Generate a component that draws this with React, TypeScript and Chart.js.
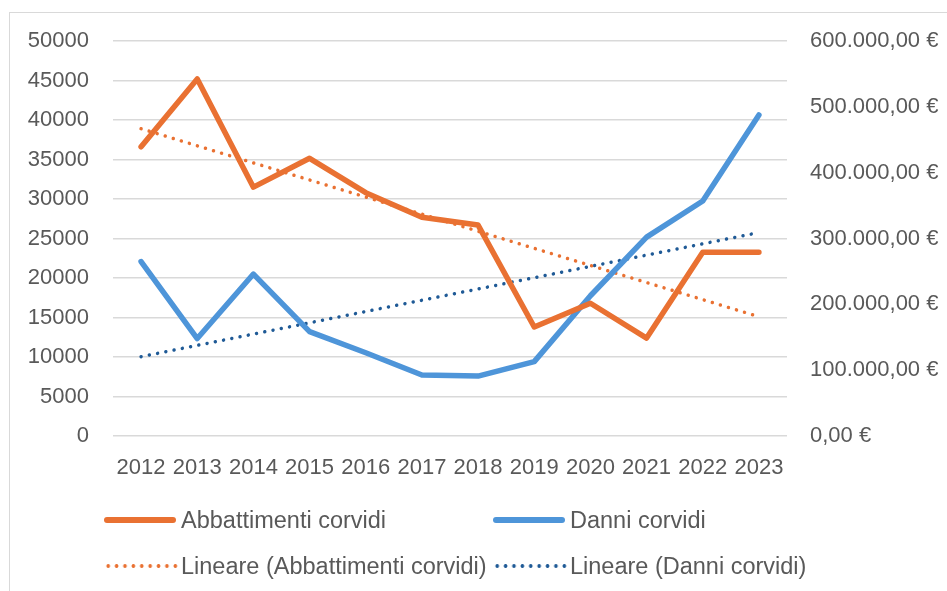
import React, { useEffect, useRef } from "react";
import { Chart, registerables } from "chart.js";

Chart.register(...registerables);

const years = ["2012", "2013", "2014", "2015", "2016", "2017", "2018", "2019", "2020", "2021", "2022", "2023"];
const abbattimenti = [36600, 45200, 31500, 35150, 30800, 27700, 26700, 13800, 16800, 12400, 23250, 23250];
const danni = [265000, 148000, 246000, 158500, 126500, 92700, 91000, 113000, 213000, 302000, 357000, 487600];
const trendAbbattimenti = [38900, null, null, null, null, null, null, null, null, null, null, 15100];
const trendDanni = [120500, null, null, null, null, null, null, null, null, null, null, 309000];

const seriesNames = ["Abbattimenti corvidi", "Danni corvidi", "Lineare (Abbattimenti corvidi)", "Lineare (Danni corvidi)"];

const ORANGE = "#E97132";
const BLUE = "#4E95D9";
const DARKBLUE = "#1F5A96";
const TEXT = "#595959";
const GRID = "#D9D9D9";
const FONT = "'Liberation Sans', Arial, sans-serif";

function formatEuro(v: number): string {
  const int = Math.round(v).toString().replace(/\B(?=(\d{3})+(?!\d))/g, ".");
  return int + ",00 €";
}

function LegendItem(props: { left: number; top: number; color: string; dotted: boolean; label: string }) {
  const { left, top, color, dotted, label } = props;
  const sample: React.CSSProperties = dotted
    ? {
        position: "absolute",
        left: left,
        top: top - 2,
        width: 74,
        height: 4,
        background: `radial-gradient(circle, ${color} 1.6px, transparent 2.1px) 0 0 / 8.4px 4px repeat-x`,
      }
    : {
        position: "absolute",
        left: left,
        top: top - 3,
        width: 72,
        height: 6,
        borderRadius: 3,
        background: color,
      };
  return (
    <>
      <div style={sample} />
      <div
        style={{
          position: "absolute",
          left: left + 77,
          top: top - 15,
          height: 30,
          lineHeight: "30px",
          fontFamily: FONT,
          fontSize: 23.5,
          color: TEXT,
          whiteSpace: "nowrap",
        }}
      >
        {label}
      </div>
    </>
  );
}

export default function App() {
  const canvasRef = useRef<HTMLCanvasElement | null>(null);

  useEffect(() => {
    if (!canvasRef.current) return;
    const chart = new Chart(canvasRef.current, {
      type: "line",
      data: {
        labels: years,
        datasets: [
          {
            label: seriesNames[0],
            data: abbattimenti,
            borderColor: ORANGE,
            borderWidth: 5.5,
            pointRadius: 0,
            borderCapStyle: "round",
            borderJoinStyle: "round",
            yAxisID: "y",
            tension: 0,
          },
          {
            label: seriesNames[1],
            data: danni,
            borderColor: BLUE,
            borderWidth: 5.5,
            pointRadius: 0,
            borderCapStyle: "round",
            borderJoinStyle: "round",
            yAxisID: "y1",
            tension: 0,
          },
          {
            label: seriesNames[2],
            data: trendAbbattimenti,
            borderColor: ORANGE,
            borderWidth: 3.5,
            borderDash: [0.01, 8.4],
            borderCapStyle: "round",
            pointRadius: 0,
            spanGaps: true,
            yAxisID: "y",
          },
          {
            label: seriesNames[3],
            data: trendDanni,
            borderColor: DARKBLUE,
            borderWidth: 3.5,
            borderDash: [0.01, 8.4],
            borderCapStyle: "round",
            pointRadius: 0,
            spanGaps: true,
            yAxisID: "y1",
          },
        ],
      },
      options: {
        responsive: false,
        animation: false,
        devicePixelRatio: 1,
        layout: { padding: { top: 41, left: 0, right: 0, bottom: 0 } },
        plugins: { legend: { display: false }, tooltip: { enabled: false } },
        scales: {
          x: {
            offset: true,
            grid: { display: false, drawTicks: false },
            border: { display: false },
            ticks: { color: TEXT, font: { family: FONT, size: 22 }, padding: 19, maxRotation: 0, autoSkip: false },
            afterFit: (s: any) => {
              s.height = 155;
            },
          },
          y: {
            position: "left",
            min: 0,
            max: 50000,
            grid: { color: GRID, lineWidth: 1.5, drawTicks: false },
            border: { display: false },
            ticks: {
              stepSize: 5000,
              color: TEXT,
              font: { family: FONT, size: 22 },
              padding: 24,
              callback: (v: any) => String(v),
            },
            afterFit: (s: any) => {
              s.width = 113;
            },
          },
          y1: {
            position: "right",
            min: 0,
            max: 600000,
            grid: { display: false, drawTicks: false },
            border: { display: false },
            ticks: {
              stepSize: 100000,
              color: TEXT,
              font: { family: FONT, size: 22 },
              padding: 23,
              callback: (v: any) => formatEuro(Number(v)),
            },
            afterFit: (s: any) => {
              s.width = 160;
            },
          },
        },
      },
    });
    return () => chart.destroy();
  }, []);

  return (
    <div style={{ position: "absolute", left: 0, top: 0, width: 947, height: 591, overflow: "hidden", background: "#fff" }}>
      <div
        style={{
          position: "absolute",
          left: 9,
          top: 12,
          width: 1000,
          height: 700,
          borderLeft: `1.5px solid ${GRID}`,
          borderTop: `1.5px solid ${GRID}`,
        }}
      />
      <canvas ref={canvasRef} width={947} height={591} style={{ position: "absolute", left: 0, top: 0 }} />
      <LegendItem left={104} top={520} color={ORANGE} dotted={false} label={seriesNames[0]} />
      <LegendItem left={493} top={520} color={BLUE} dotted={false} label={seriesNames[1]} />
      <LegendItem left={104} top={566} color={ORANGE} dotted={true} label={seriesNames[2]} />
      <LegendItem left={493} top={566} color={DARKBLUE} dotted={true} label={seriesNames[3]} />
    </div>
  );
}
